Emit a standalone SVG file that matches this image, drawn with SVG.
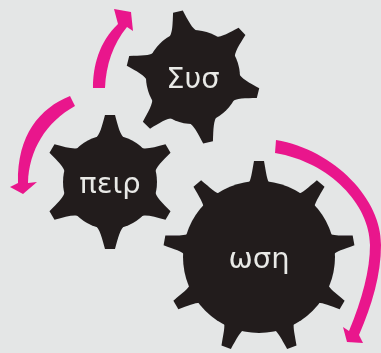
<svg xmlns="http://www.w3.org/2000/svg" width="381" height="353" viewBox="0 0 381 353">
<style>
.g{fill:#211d1e;filter:url(#soft)}
.a{fill:#e9178c}
.t{font-family:"DejaVu Sans",sans-serif;fill:#e9e9e6;text-anchor:middle}
#connectors{filter:url(#soft)}
</style>
<defs>
<filter id="soft" x="-5%" y="-5%" width="110%" height="110%"><feGaussianBlur stdDeviation="0.45"/></filter>
<path id="t1" d="M-15 -43 C-10 -47 -8 -56 -5 -67 L5 -67 C8 -56 10 -47 15 -43 Z"/>
<path id="t3" d="M-11 -73 C-8 -76 -7 -85 -5 -96 L5 -96 C7 -85 8 -76 11 -73 Z"/>
</defs>
<rect width="381" height="353" fill="#e4e6e6"/>
<g id="connectors">
<path class="a" d="M93 88 C93 66 99 42 118 24 L114 9 L131 12 L133 31 L127 27 C113 44 106 65 105 88 Z"/>
<path class="a" d="M70 96 C40 108 17 135 18 183 L10 187 L23 194 L37 182 L28 183 C29 150 46 122 75 106 Z"/>
<path class="a" d="M276 140 C335 150 382 200 381 245 C381 275 372 305 359 335 L363 343 L347 342 L343 327 L349 331 C362 300 370 270 370 245 C370 205 330 162 275 153 Z"/>
</g>
<g id="node-sys" class="g" transform="translate(193 77)">
<circle r="47"/>
<use href="#t1" transform="rotate(-13)"/><use href="#t1" transform="rotate(47)"/><use href="#t1" transform="rotate(104)"/><use href="#t1" transform="rotate(167)"/><use href="#t1" transform="rotate(224)"/><use href="#t1" transform="rotate(284)"/>
<text class="t" x="0" y="11" font-size="29">Συσ</text>
</g>
<g id="node-peir" class="g" transform="translate(110 182)">
<circle r="47"/>
<use href="#t1"/><use href="#t1" transform="rotate(60)"/><use href="#t1" transform="rotate(120)"/><use href="#t1" transform="rotate(180)"/><use href="#t1" transform="rotate(240)"/><use href="#t1" transform="rotate(300)"/>
<text class="t" x="0" y="11" font-size="29">πειρ</text>
</g>
<g id="node-osi" class="g" transform="translate(259 257)">
<circle r="76"/>
<use href="#t3"/><use href="#t3" transform="rotate(40)"/><use href="#t3" transform="rotate(80)"/><use href="#t3" transform="rotate(120)"/><use href="#t3" transform="rotate(160)"/><use href="#t3" transform="rotate(200)"/><use href="#t3" transform="rotate(240)"/><use href="#t3" transform="rotate(280)"/><use href="#t3" transform="rotate(320)"/>
<text class="t" x="0" y="11" font-size="29">ωση</text>
</g>
</svg>
